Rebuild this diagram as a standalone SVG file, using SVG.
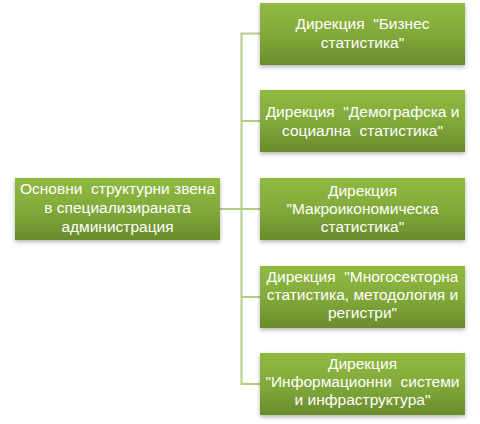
<svg xmlns="http://www.w3.org/2000/svg" width="480" height="424" viewBox="0 0 480 424">
<style>
.box{fill:url(#g);filter:url(#sh)}
.t{font-family:"Liberation Sans","Noto Sans",sans-serif;font-size:15.5px;fill:#ffffff;text-anchor:middle;white-space:pre}
.c{fill:none;stroke:#b6cd84;stroke-width:2}
</style>
<defs>
<linearGradient id="g" x1="0" y1="0" x2="0" y2="1">
<stop offset="0" stop-color="#90ba42"/>
<stop offset="0.5" stop-color="#82aa3a"/>
<stop offset="1" stop-color="#6a8c2d"/>
</linearGradient>
<filter id="sh" x="-10%" y="-10%" width="125%" height="135%">
<feDropShadow dx="0" dy="2" stdDeviation="2" flood-color="#000" flood-opacity="0.3"/>
</filter>
</defs>
<g id="connectors">
<path class="c" d="M260,33.5 H241.5 V384 H260"/>
<path class="c" d="M241.5,121 H260"/>
<path class="c" d="M220,209 H260"/>
<path class="c" d="M241.5,297 H260"/>
</g>
<g id="root">
<rect class="box" x="15" y="178" width="205" height="62"/>
<text class="t" x="117.5" y="194" xml:space="preserve">Основни  структурни звена</text>
<text class="t" x="117.5" y="213">в специализираната</text>
<text class="t" x="117.5" y="232">администрация</text>
</g>
<g id="n1">
<rect class="box" x="260" y="3" width="205" height="62"/>
<text class="t" x="362.5" y="29" xml:space="preserve">Дирекция  "Бизнес</text>
<text class="t" x="362.5" y="48">статистика"</text>
</g>
<g id="n2">
<rect class="box" x="260" y="90" width="205" height="62"/>
<text class="t" x="362.5" y="117" xml:space="preserve">Дирекция  "Демографска и</text>
<text class="t" x="362.5" y="136" xml:space="preserve">социална  статистика"</text>
</g>
<g id="n3">
<rect class="box" x="260" y="178" width="205" height="62"/>
<text class="t" x="362.5" y="196">Дирекция</text>
<text class="t" x="362.5" y="214">"Макроикономическа</text>
<text class="t" x="362.5" y="232">статистика"</text>
</g>
<g id="n4">
<rect class="box" x="260" y="266" width="205" height="62"/>
<text class="t" x="362.5" y="282" xml:space="preserve">Дирекция  "Многосекторна</text>
<text class="t" x="362.5" y="300">статистика, методология и</text>
<text class="t" x="362.5" y="318">регистри"</text>
</g>
<g id="n5">
<rect class="box" x="260" y="353" width="205" height="62"/>
<text class="t" x="362.5" y="369">Дирекция</text>
<text class="t" x="362.5" y="387" xml:space="preserve">"Информационни  системи</text>
<text class="t" x="362.5" y="405">и инфраструктура"</text>
</g>
</svg>
